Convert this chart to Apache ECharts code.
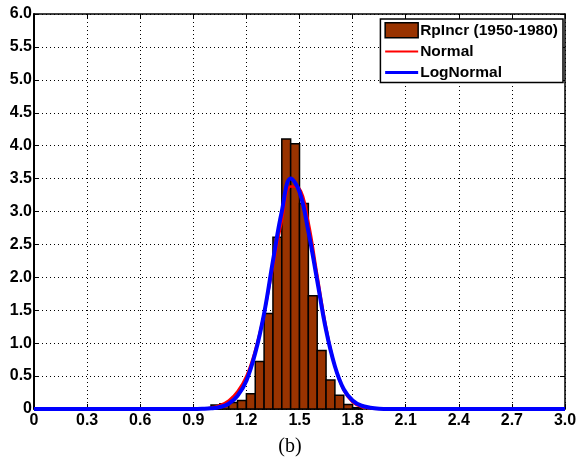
<!DOCTYPE html>
<html>
<head>
<meta charset="utf-8">
<title>RpIncr histogram</title>
<script src="https://cdn.jsdelivr.net/npm/echarts@6/dist/echarts.min.js"></script>
<style>
  html, body { margin: 0; padding: 0; background: #fff; }
</style>
</head>
<body>
<div id="main" style="width:580px;height:473px;"></div>
<script type="text/javascript">
// histogram bins (left edge) and heights
var binStart = [1.00, 1.05, 1.10, 1.15, 1.20, 1.25, 1.30, 1.35, 1.40, 1.45, 1.50, 1.55, 1.60, 1.65, 1.70, 1.75, 1.80];
var binHeight = [0.06, 0.08, 0.10, 0.13, 0.23, 0.72, 1.45, 2.61, 4.10, 4.03, 3.12, 1.72, 0.89, 0.44, 0.21, 0.07, 0.02];

// fitted curves
var curveX = [0, 0.3, 0.6, 0.9, 0.95, 1.00, 1.05, 1.10, 1.15, 1.20, 1.25, 1.30, 1.35, 1.40, 1.45, 1.50, 1.55, 1.60, 1.65, 1.70, 1.75, 1.80, 1.85, 1.90, 1.95, 2.0, 2.1, 2.4, 2.7, 3.0];
var normalY = [0, 0, 0, 0, 0.005, 0.02, 0.06, 0.13, 0.27, 0.50, 0.90, 1.45, 2.15, 2.85, 3.38, 3.35, 2.85, 2.05, 1.25, 0.65, 0.28, 0.10, 0.03, 0.01, 0, 0, 0, 0, 0, 0];
var lognormalY = [0, 0, 0, 0, 0.003, 0.01, 0.03, 0.08, 0.20, 0.43, 0.85, 1.45, 2.25, 3.00, 3.50, 3.30, 2.70, 1.95, 1.20, 0.65, 0.30, 0.13, 0.05, 0.02, 0.005, 0, 0, 0, 0, 0];

var xTicks = { min: 0, max: 3.0, interval: 0.3 };
var yTicks = { min: 0, max: 6.0, interval: 0.5 };

var brown = '#993300';
var labelFont = { fontFamily: 'Liberation Sans', fontWeight: 'bold', fontSize: 16, color: '#000' };

function fmt(v) { return v === 0 ? '0' : v.toFixed(1); }
function zip(xs, ys) { return xs.map(function (x, i) { return [x, ys[i]]; }); }

var myChart = echarts.init(document.getElementById('main'));

var binWidth = binStart[1] - binStart[0];

var gridLine = { show: true, lineStyle: { color: '#000', type: [1, 3], width: 1 } };
var boxLine = { show: true, onZero: false, lineStyle: { color: '#000', width: 1.5 } };
var tickIn = { show: true, inside: true, length: 5, lineStyle: { color: '#000' } };

var option = {
    animation: false,
    backgroundColor: '#fff',
    title: {
        text: '(b)',
        left: 'center',
        bottom: 11,
        textStyle: { fontFamily: 'Liberation Serif', fontWeight: 'normal', fontSize: 20, color: '#000' }
    },
    grid: { left: 34, right: 15, top: 14, bottom: 64, containLabel: false },
    legend: {
        orient: 'vertical',
        right: 17,
        top: 19,
        padding: [3, 5, 2, 4],
        itemGap: 5,
        itemWidth: 33,
        itemHeight: 15,
        backgroundColor: '#fff',
        borderColor: '#000',
        borderWidth: 1.5,
        borderRadius: 0,
        textStyle: { fontFamily: 'Liberation Sans', fontWeight: 'bold', fontSize: 15.5, color: '#000', padding: [0, 0, 0, -3] },
        data: [
            { name: 'RpIncr (1950-1980)', icon: 'rect', itemStyle: { color: brown, borderColor: '#000', borderWidth: 1.5 } },
            { name: 'Normal', icon: 'path://M0,6 L32,6 L32,8 L0,8 Z', itemStyle: { color: '#ff0000' } },
            { name: 'LogNormal', icon: 'path://M0,5.5 L32,5.5 L32,8.5 L0,8.5 Z', itemStyle: { color: '#0000ff' } }
        ]
    },
    xAxis: [{
        type: 'value',
        min: xTicks.min, max: xTicks.max, interval: xTicks.interval,
        axisLine: boxLine,
        axisTick: tickIn,
        splitLine: gridLine,
        axisLabel: Object.assign({ formatter: fmt, margin: 4 }, labelFont)
    }, {
        type: 'value', position: 'top',
        min: xTicks.min, max: xTicks.max, interval: xTicks.interval,
        axisLine: boxLine, axisTick: tickIn, splitLine: { show: false }, axisLabel: { show: false }
    }],
    yAxis: [{
        type: 'value',
        min: yTicks.min, max: yTicks.max, interval: yTicks.interval,
        axisLine: { show: true, onZero: false, lineStyle: { color: '#000', width: 2 } },
        axisTick: tickIn,
        splitLine: gridLine,
        axisLabel: Object.assign({ formatter: fmt, margin: 2 }, labelFont)
    }, {
        type: 'value', position: 'right',
        min: yTicks.min, max: yTicks.max, interval: yTicks.interval,
        axisLine: boxLine, axisTick: tickIn, splitLine: { show: false }, axisLabel: { show: false }
    }],
    series: [{
        name: 'RpIncr (1950-1980)',
        type: 'custom',
        xAxisIndex: 0, yAxisIndex: 0,
        encode: { x: 0, y: 1 },
        data: zip(binStart, binHeight),
        itemStyle: { color: brown },
        renderItem: function (params, api) {
            var x0 = api.value(0), h = api.value(1);
            var p0 = api.coord([x0, 0]);
            var p1 = api.coord([x0 + binWidth, h]);
            return {
                type: 'rect',
                shape: { x: p0[0], y: p1[1], width: p1[0] - p0[0], height: p0[1] - p1[1] },
                style: { fill: brown, stroke: '#000', lineWidth: 1.5 }
            };
        }
    }, {
        name: 'Normal',
        type: 'line',
        xAxisIndex: 0, yAxisIndex: 0,
        data: zip(curveX, normalY),
        smooth: 0.4,
        symbol: 'none',
        lineStyle: { color: '#ff0000', width: 2.5 },
        itemStyle: { color: '#ff0000' }
    }, {
        name: 'LogNormal',
        type: 'line',
        xAxisIndex: 0, yAxisIndex: 0,
        data: zip(curveX, lognormalY),
        smooth: 0.4,
        symbol: 'none',
        lineStyle: { color: '#0000ff', width: 4 },
        itemStyle: { color: '#0000ff' }
    }]
};

myChart.setOption(option);
</script>
</body>
</html>
